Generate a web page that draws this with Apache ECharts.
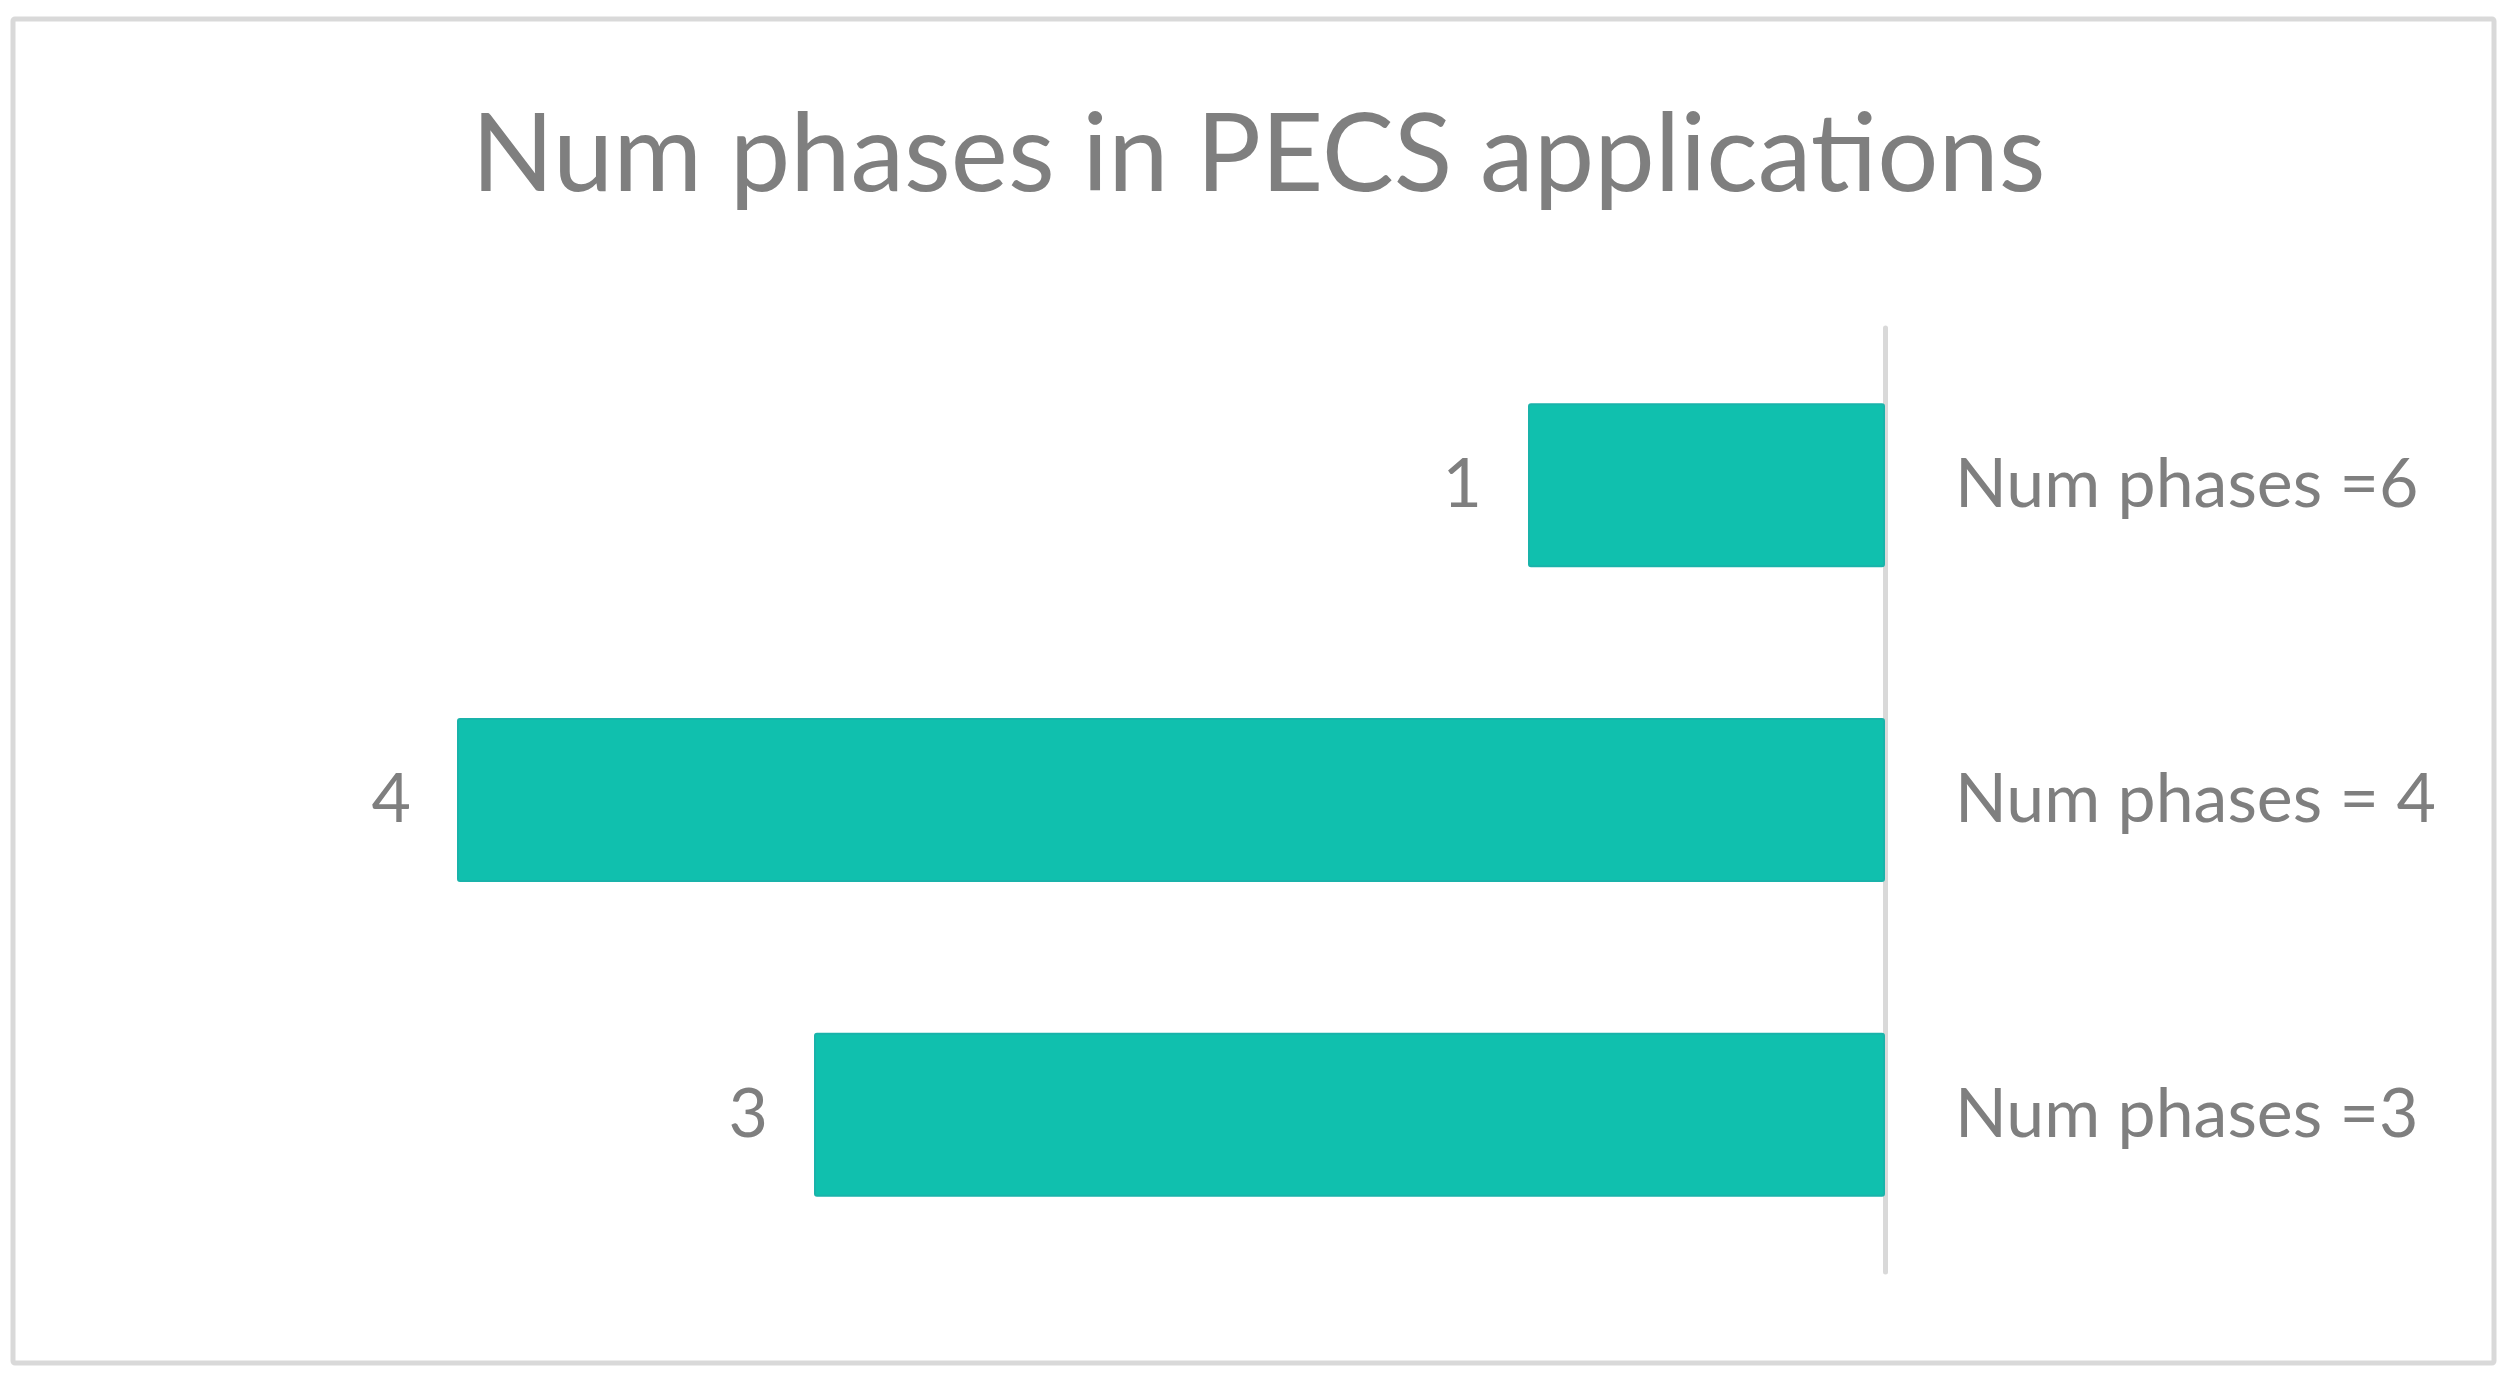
<!DOCTYPE html>
<html>
<head>
<meta charset="utf-8">
<style>
  html, body { margin: 0; padding: 0; background: #ffffff; }
  #chart { width: 2517px; height: 1386px; }
</style>
<script src="https://cdn.jsdelivr.net/npm/echarts@6/dist/echarts.min.js"></script>
</head>
<body>
<div id="chart"></div>
<script>
const titleText = 'Num phases in PECS applications';
const categories = ['Num phases =6', 'Num phases = 4', 'Num phases =3'];
const counts = [1, 4, 3];

const FONT = 'Lato, "Open Sans", "Noto Sans", sans-serif';
const GRAY = '#7f7f7f';

const chart = echarts.init(document.getElementById('chart'), null, { renderer: 'canvas' });
chart.setOption({
  backgroundColor: '#ffffff',
  animation: false,
  title: {
    text: titleText,
    left: 'center',
    top: 97,
    textStyle: { fontFamily: FONT, fontSize: 108, fontWeight: 'normal', color: GRAY }
  },
  graphic: [{
    type: 'rect',
    shape: { x: 13, y: 19, width: 2481, height: 1344, r: 2 },
    style: { fill: 'none', stroke: '#d9d9d9', lineWidth: 5 },
    silent: true,
    z: -1
  }],
  grid: { left: 278.5, right: 632, top: 328, bottom: 114, containLabel: false },
  xAxis: {
    type: 'value',
    min: 0,
    max: 4.5,
    inverse: true,
    show: false
  },
  yAxis: {
    type: 'category',
    data: categories,
    inverse: true,
    position: 'right',
    axisLine: { show: true, lineStyle: { color: '#d9d9d9', width: 5 } },
    axisTick: { show: false },
    splitLine: { show: false },
    axisLabel: { margin: 70, fontFamily: FONT, fontSize: 68, color: GRAY }
  },
  series: [{
    type: 'bar',
    data: counts,
    barCategoryGap: '47.9%',
    itemStyle: { color: '#10c0ae', borderColor: '#19b3aa', borderWidth: 2, borderRadius: 2 },
    label: {
      show: true,
      position: 'left',
      distance: 46,
      fontFamily: FONT,
      fontSize: 68,
      color: GRAY
    },
    z: 1
  }]
});
</script>
</body>
</html>
